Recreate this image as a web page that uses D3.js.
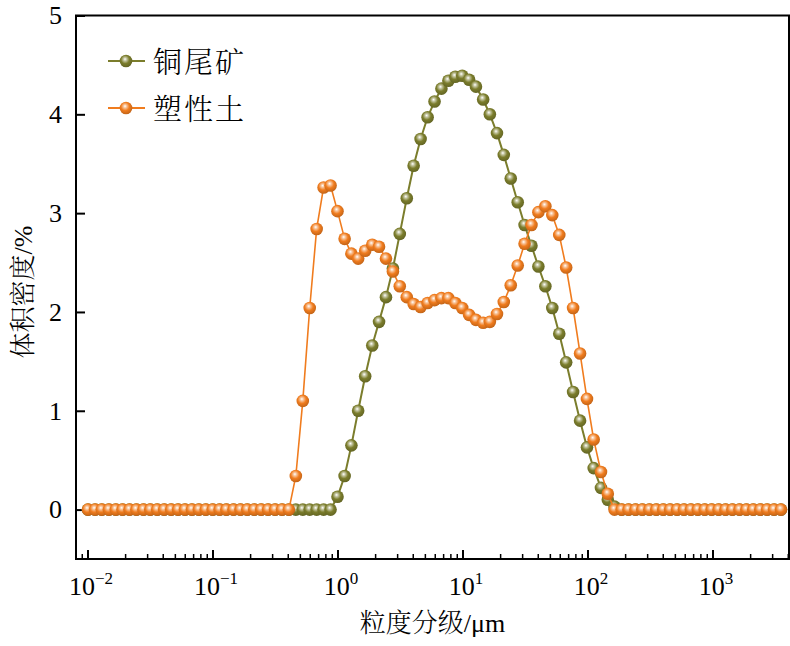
<!DOCTYPE html>
<html>
<head>
<meta charset="utf-8">
<script src="https://cdn.jsdelivr.net/npm/d3@7/dist/d3.min.js"></script>
<style>
  body { margin: 0; background: #fff; }
</style>
</head>
<body>
<div id="chart"></div>
<script>
// size classes (um), laser diffraction grid 0.01 - 3500
const sizes = [
  0.0100, 0.0114, 0.0129, 0.0147, 0.0167, 0.0189, 0.0215, 0.0244, 0.0278, 0.0315,
  0.0358, 0.0407, 0.0463, 0.0526, 0.0597, 0.0679, 0.0771, 0.0876, 0.0995, 0.113,
  0.128, 0.146, 0.166, 0.188, 0.214, 0.243, 0.276, 0.314, 0.357, 0.405,
  0.460, 0.523, 0.594, 0.675, 0.767, 0.872, 0.991, 1.13, 1.28, 1.45,
  1.65, 1.88, 2.13, 2.42, 2.75, 3.12, 3.55, 4.03, 4.58, 5.21,
  5.92, 6.72, 7.64, 8.68, 9.86, 11.2, 12.7, 14.5, 16.4, 18.7,
  21.2, 24.1, 27.4, 31.1, 35.3, 40.1, 45.6, 51.8, 58.9, 66.9,
  76.0, 86.4, 98.1, 111, 127, 144, 163, 186, 211, 240,
  272, 310, 352, 400, 454, 516, 586, 666, 756, 859,
  976, 1110, 1260, 1430, 1630, 1850, 2100, 2390, 2710, 3080,
  3500
];

// 铜尾矿 volume density (%)
const tailings = [
  0, 0, 0, 0, 0, 0, 0, 0, 0, 0,
  0, 0, 0, 0, 0, 0, 0, 0, 0, 0,
  0, 0, 0, 0, 0, 0, 0, 0, 0, 0,
  0, 0, 0, 0, 0, 0, 0.13, 0.34, 0.65, 1.00,
  1.35, 1.66, 1.90, 2.15, 2.44, 2.79, 3.15, 3.48, 3.75, 3.97,
  4.13, 4.26, 4.34, 4.38, 4.39, 4.35, 4.28, 4.15, 4.00, 3.81,
  3.59, 3.35, 3.11, 2.88, 2.67, 2.46, 2.26, 2.04, 1.78, 1.49,
  1.19, 0.90, 0.63, 0.42, 0.22, 0.10, 0.03, 0, 0, 0,
  0, 0, 0, 0, 0, 0, 0, 0, 0, 0,
  0, 0, 0, 0, 0, 0, 0, 0, 0, 0,
  0
];

// 塑性土 volume density (%)
const clay = [
  0, 0, 0, 0, 0, 0, 0, 0, 0, 0,
  0, 0, 0, 0, 0, 0, 0, 0, 0, 0,
  0, 0, 0, 0, 0, 0, 0, 0, 0, 0,
  0.34, 1.10, 2.04, 2.84, 3.26, 3.28, 3.02, 2.74, 2.59, 2.54,
  2.62, 2.68, 2.66, 2.54, 2.41, 2.26, 2.15, 2.08, 2.05, 2.09,
  2.12, 2.14, 2.14, 2.09, 2.04, 1.97, 1.92, 1.89, 1.90, 1.98,
  2.10, 2.27, 2.47, 2.69, 2.88, 3.01, 3.07, 2.98, 2.78, 2.45,
  2.04, 1.58, 1.12, 0.71, 0.38, 0.16, 0, 0, 0, 0,
  0, 0, 0, 0, 0, 0, 0, 0, 0, 0,
  0, 0, 0, 0, 0, 0, 0, 0, 0, 0,
  0
];

const seriesNames = ['铜尾矿', '塑性土'];
const seriesColors = ['#7b7d2c', '#f07c1e'];
const yTicks = [0, 1, 2, 3, 4, 5];
const xTicks = [0.01, 0.1, 1, 10, 100, 1000];
const xTickExp = ['\u22122', '\u22121', '0', '1', '2', '3'];

const serifFont = "'Liberation Serif', 'Times New Roman', Times, Tinos, 'Noto Serif', 'DejaVu Serif', FreeSerif, serif";
const cjkFont = "'Liberation Serif', 'Noto Serif CJK SC', 'Noto Sans CJK SC', serif";

const width = 790, height = 646;
const margin = { top: 15.5, right: 1, bottom: 87, left: 76 };
const innerWidth = width - margin.left - margin.right;
const innerHeight = height - margin.top - margin.bottom;

const svg = d3.select('#chart').append('svg')
    .attr('width', width)
    .attr('height', height)
    .style('font-family', serifFont);

// ball gradients
const defs = svg.append('defs');
seriesColors.forEach((c, i) => {
    const grad = defs.append('radialGradient')
        .attr('id', 'ball' + i)
        .attr('cx', '45%').attr('cy', '40%').attr('r', '60%')
        .attr('fx', '42%').attr('fy', '35%');
    grad.append('stop').attr('offset', '0%').attr('stop-color', '#ffffff');
    grad.append('stop').attr('offset', '22%').attr('stop-color', d3.interpolateRgb('#ffffff', c)(0.45));
    grad.append('stop').attr('offset', '55%').attr('stop-color', c);
    grad.append('stop').attr('offset', '100%').attr('stop-color', d3.color(c).darker(0.6));
});

const g = svg.append('g')
    .attr('transform', `translate(${margin.left},${margin.top})`);

const xScale = d3.scaleLog()
    .domain([0.00802, 4055])
    .range([0, innerWidth]);

const yScale = d3.scaleLinear()
    .domain([-0.5, 5])
    .range([innerHeight, 0]);

// minor x ticks
const minorTicks = xScale.ticks().filter(t => !xTicks.includes(t));
g.append('g')
    .selectAll('line.minor')
    .data(minorTicks)
    .enter()
    .append('line')
    .attr('x1', d => xScale(d)).attr('x2', d => xScale(d))
    .attr('y1', innerHeight).attr('y2', innerHeight - 5)
    .attr('stroke', '#000').attr('stroke-width', 1.5);

// major x ticks
g.append('g')
    .selectAll('line.major')
    .data(xTicks)
    .enter()
    .append('line')
    .attr('x1', d => xScale(d)).attr('x2', d => xScale(d))
    .attr('y1', innerHeight).attr('y2', innerHeight - 9)
    .attr('stroke', '#000').attr('stroke-width', 2);

// x tick labels with superscript
const xLab = g.append('g')
    .selectAll('text')
    .data(xTicks)
    .enter()
    .append('text')
    .attr('x', d => xScale(d) + 3)
    .attr('y', innerHeight + 36)
    .attr('text-anchor', 'middle')
    .style('font-family', serifFont)
    .style('font-size', '26px');
xLab.append('tspan').text('10');
xLab.append('tspan')
    .attr('dy', -11)
    .style('font-size', '17px')
    .text((d, i) => xTickExp[i]);

// y axis
const yAxis = g.append('g')
    .call(d3.axisLeft(yScale).tickValues(yTicks).tickFormat(d3.format('d')).tickSize(-9).tickPadding(14));
yAxis.attr('font-family', null).attr('font-size', null);
yAxis.select('.domain').remove();
yAxis.selectAll('.tick line').attr('stroke-width', 2);
yAxis.selectAll('.tick text')
    .style('font-family', serifFont)
    .style('font-size', '26px')
    .attr('fill', '#000');

// frame
g.append('rect')
    .attr('x', 0).attr('y', 0)
    .attr('width', innerWidth).attr('height', innerHeight)
    .attr('fill', 'none')
    .attr('stroke', '#000')
    .attr('stroke-width', 2);

// series
const allSeries = [tailings, clay];
const line = d3.line()
    .x(d => xScale(d.x))
    .y(d => yScale(d.y));

allSeries.forEach((vals, i) => {
    const pts = vals.map((v, k) => ({ x: sizes[k], y: v }));
    g.append('path')
        .datum(pts)
        .attr('fill', 'none')
        .attr('stroke', seriesColors[i])
        .attr('stroke-width', i === 0 ? 2 : 1.6)
        .attr('d', line);
    g.append('g')
        .selectAll('circle')
        .data(pts)
        .enter()
        .append('circle')
        .attr('cx', d => xScale(d.x))
        .attr('cy', d => yScale(d.y))
        .attr('r', 6.3)
        .attr('fill', `url(#ball${i})`);
});

// legend
const legend = svg.append('g');
seriesNames.forEach((name, i) => {
    const ly = 61 + i * 47;
    legend.append('line')
        .attr('x1', 108).attr('x2', 145)
        .attr('y1', ly).attr('y2', ly)
        .attr('stroke', seriesColors[i])
        .attr('stroke-width', 2);
    legend.append('circle')
        .attr('cx', 126).attr('cy', ly)
        .attr('r', 6.3)
        .attr('fill', `url(#ball${i})`);
    legend.append('text')
        .attr('x', 153).attr('y', ly + 12)
        .style('font-family', cjkFont)
        .style('font-weight', 300)
        .style('font-size', '29px')
        .style('letter-spacing', '2px')
        .text(name);
});

// axis titles
svg.append('text')
    .attr('x', margin.left + innerWidth / 2)
    .attr('y', 632)
    .attr('text-anchor', 'middle')
    .style('font-family', cjkFont)
    .style('font-weight', 300)
    .style('font-size', '26px')
    .text('粒度分级/μm');

svg.append('text')
    .attr('transform', 'translate(32,292) rotate(-90)')
    .attr('text-anchor', 'middle')
    .style('font-family', cjkFont)
    .style('font-weight', 300)
    .style('font-size', '26px')
    .text('体积密度/%');
</script>
</body>
</html>
